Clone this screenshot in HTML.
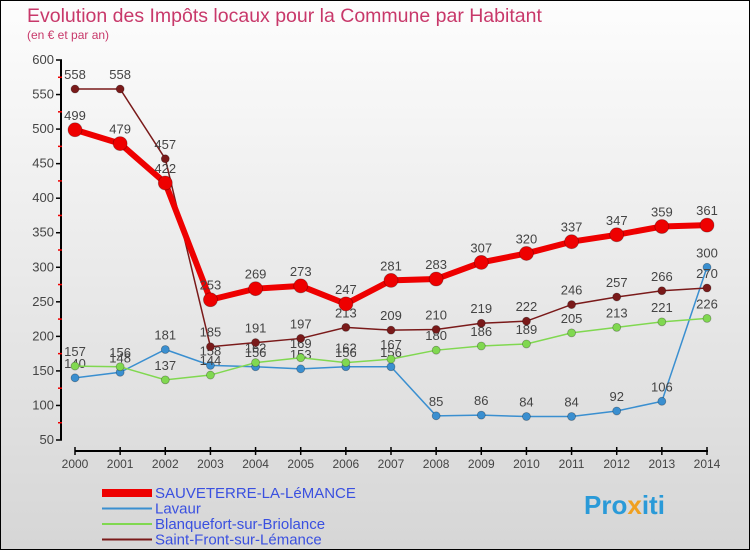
<!DOCTYPE html>
<html><head><meta charset="utf-8"><style>
body{margin:0;width:750px;height:550px;overflow:hidden;font-family:"Liberation Sans","DejaVu Sans",sans-serif}
#wrap{position:absolute;left:0;top:0;width:748px;height:548px;border:1px solid #000;background:linear-gradient(#fdfdfd,#d6d6d6)}
</style></head><body>
<div id="wrap">
<svg id="c" width="748" height="548" xmlns="http://www.w3.org/2000/svg">
<text x="26" y="21" font-size="19.5" fill="#c8386a">Evolution des Impôts locaux pour la Commune par Habitant</text>
<text x="26" y="38" font-size="12" fill="#c8386a">(en € et par an)</text>
<g id="axes"></g><g id="series"></g>
<g id="legend"></g>
<text x="583" y="513" font-size="26" font-weight="bold" fill="#2a9ad8">Pro<tspan fill="#f0a020">x</tspan>iti</text>
</svg></div>
<script>
const years=[2000,2001,2002,2003,2004,2005,2006,2007,2008,2009,2010,2011,2012,2013,2014];
const yTicks=[50,100,150,200,250,300,350,400,450,500,550,600];
const sauveterre=[499,479,422,253,269,273,247,281,283,307,320,337,347,359,361];
const lavaur=[140,148,181,158,156,153,156,156,85,86,84,84,92,106,300];
const blanquefort=[157,156,137,144,162,169,162,167,180,186,189,205,213,221,226];
const saintFront=[558,558,457,185,191,197,213,209,210,219,222,246,257,266,270];
const NS="http://www.w3.org/2000/svg";
const xS=i=>74+i*(632/14);
const yS=v=>439-(v-50)*(380/550);
function mk(t,a,p){const e=document.createElementNS(NS,t);for(const k in a)e.setAttribute(k,a[k]);p.appendChild(e);return e;}
const ax=document.getElementById('axes');
let l=mk('line',{x1:60,y1:yS(600),x2:60,y2:yS(50),stroke:'#000','stroke-width':2},ax);


yTicks.forEach(v=>{
 const t=mk('line',{x1:55,y1:yS(v),x2:61,y2:yS(v),stroke:'#000','stroke-width':1.5},ax);
 
 
 if(v<600){const m=mk('line',{x1:57,y1:yS(v+25),x2:61,y2:yS(v+25),stroke:'#e00','stroke-width':1.5},ax);
 
 }
 const tx=mk('text',{x:53,y:yS(v)+4,'font-size':13,'text-anchor':'end',fill:'#444'},ax);tx.textContent=v;
 
 
});
l=mk('line',{x1:74,y1:450,x2:707,y2:450,stroke:'#000','stroke-width':2},ax);


years.forEach((y,i)=>{
 const t=mk('line',{x1:xS(i),y1:446,x2:xS(i),y2:454,stroke:'#000','stroke-width':1.5},ax);
 
 
 const tx=mk('text',{x:xS(i),y:467,'font-size':12,'text-anchor':'middle',fill:'#444'},ax);tx.textContent=y;
 
 
});
const sg=document.getElementById('series');
function series(vals,color,w,r,name){
 const g=mk('g',{},sg);
 
 
 const p=mk('polyline',{points:vals.map((v,i)=>xS(i)+','+yS(v)).join(' '),fill:'none',stroke:color,'stroke-width':w},g);
 
 
 vals.forEach((v,i)=>{
  const c=mk('circle',{cx:xS(i),cy:yS(v),r:r,fill:color,stroke:'rgba(0,0,0,0.3)','stroke-width':0.8},g);
  
  
  const t=mk('text',{x:xS(i),y:yS(v)-10,'font-size':13,'text-anchor':'middle',fill:'#444'},g);t.textContent=v;
  
  
 });
}
series(lavaur,'#3a8fd0',1.5,4,'lavaur');
series(blanquefort,'#80d850',1.5,4,'blanquefort');
series(saintFront,'#7a1a1a',1.5,4,'saint-front');
series(sauveterre,'#ee0000',6,7,'sauveterre');
const lg=document.getElementById('legend');
const items=[['SAUVETERRE-LA-LéMANCE','#ee0000',8],['Lavaur','#3a8fd0',2],['Blanquefort-sur-Briolance','#80d850',2],['Saint-Front-sur-Lémance','#7a1a1a',2]];
items.forEach((it,i)=>{
 const y=492+i*15.5;
 const g=mk('g',{},lg);
 
 
 mk('line',{x1:101,y1:y,x2:151,y2:y,stroke:it[1],'stroke-width':it[2]},g);
 const t=mk('text',{x:154,y:y+5,'font-size':15,fill:'#3a50e0'},g);t.textContent=it[0];
});
</script>
</body></html>
